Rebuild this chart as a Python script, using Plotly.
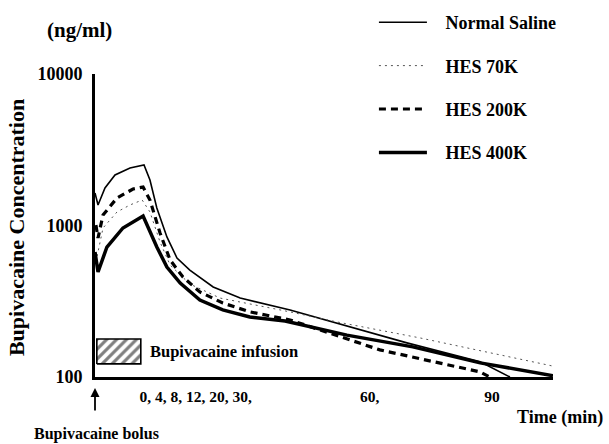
import math
import plotly.graph_objects as go

# Schematic time axis (arbitrary units 0..100 along the drawn axis)
t_saline = [0, 0.66, 2.18, 4.37, 7.64, 10.7, 12.0, 13.5, 15.7, 17.9, 20.7, 25.8, 31.7, 42.6, 68.1, 84.1, 90.6]
c_saline = [1639, 1365, 1768, 2154, 2396, 2508, 1997, 1305, 840, 610, 508, 393, 332, 277, 168, 126, 100]

t_hes70 = [0.2, 1.75, 4.8, 7.64, 10.3, 12.0, 14.2, 16.4, 20.7, 27.3, 42.6, 52.8, 71.0, 100]
c_hes70 = [574, 963, 1228, 1366, 1473, 1228, 778, 548, 411, 332, 269, 231, 181, 118]

t_hes200 = [0.2, 0.66, 1.75, 4.8, 8.3, 10.5, 12.0, 14.2, 16.4, 19.2, 22.9, 27.9, 33.8, 42.6, 62.2, 84.1, 86.2]
c_hes200 = [1008, 827, 1173, 1519, 1741, 1795, 1473, 892, 592, 457, 364, 308, 269, 238, 151, 108, 100]

t_hes400 = [0, 0.66, 2.6, 6.1, 10.5, 13.5, 15.7, 18.6, 22.9, 27.9, 33.8, 41.5, 55.0, 69.4, 84.1, 100]
c_hes400 = [668, 493, 721, 963, 1155, 721, 532, 417, 322, 277, 249, 234, 189, 158, 124, 102]

infusion_t = [0.4, 10.0]
infusion_c = [122, 178]

x_tick_pos = [22, 60, 86.7]
x_tick_text = ["0, 4, 8, 12, 20, 30,", "60,", "90"]
y_tick_vals = [100, 1000, 10000]
y_tick_text = ["100", "1000", "10000"]

FONT = "Liberation Serif"
PAD = "   "

fig = go.Figure()

fig.add_trace(go.Scatter(
    x=[infusion_t[0], infusion_t[1], infusion_t[1], infusion_t[0], infusion_t[0]],
    y=[infusion_c[0], infusion_c[0], infusion_c[1], infusion_c[1], infusion_c[0]],
    mode="lines", fill="toself", fillcolor="white",
    fillpattern=dict(shape="/", fgcolor="black", bgcolor="white", size=7, solidity=0.45),
    line=dict(color="black", width=1.6), showlegend=False, hoverinfo="skip"))

fig.add_trace(go.Scatter(x=t_saline, y=c_saline, mode="lines", name=PAD + "Normal Saline",
                         legendgroup="a", line=dict(color="black", width=1.6)))
fig.add_trace(go.Scatter(x=t_hes70, y=c_hes70, mode="lines", name=PAD + "HES 70K",
                         legendgroup="b", line=dict(color="#555555", width=1, dash="2px,4px")))
fig.add_trace(go.Scatter(x=t_hes200, y=c_hes200, mode="lines", name=PAD + "HES 200K",
                         legendgroup="c", line=dict(color="black", width=3.2, dash="7px,5px")))
fig.add_trace(go.Scatter(x=t_hes400, y=c_hes400, mode="lines", name=PAD + "HES 400K",
                         legendgroup="d", line=dict(color="black", width=3.5)))

fig.update_layout(
    width=609, height=444,
    margin=dict(l=95, r=56, t=74, b=67, autoexpand=False),
    paper_bgcolor="white", plot_bgcolor="white",
    font=dict(family=FONT, size=17, color="black", weight="bold"),
    showlegend=True,
    legend=dict(x=0.609, y=1.231, xanchor="left", yanchor="top",
                font=dict(family=FONT, size=18, weight="bold"),
                tracegroupgap=17, itemwidth=48, bgcolor="rgba(0,0,0,0)"),
    xaxis=dict(range=[0, 100], showline=True, linecolor="black", linewidth=3,
               showgrid=False, zeroline=False,
               tickvals=x_tick_pos, ticktext=x_tick_text,
               ticks="outside", ticklen=3, tickcolor="rgba(0,0,0,0)",
               tickfont=dict(family=FONT, size=15.5, weight="bold")),
    yaxis=dict(type="log", range=[2, 4], showline=True, linecolor="black", linewidth=3,
               showgrid=False, zeroline=False,
               tickvals=y_tick_vals, ticktext=y_tick_text,
               ticks="outside", ticklen=6, tickcolor="rgba(0,0,0,0)",
               tickfont=dict(family=FONT, size=18, weight="bold")),
    annotations=[
        dict(text="(ng/ml)", xref="paper", yref="paper", x=-0.033, y=1.145,
             xanchor="center", yanchor="middle", showarrow=False, font=dict(size=21)),
        dict(text="Bupivacaine Concentration", xref="paper", yref="paper",
             x=-0.17, y=0.492, xanchor="center", yanchor="middle",
             textangle=-90, showarrow=False, font=dict(size=22)),
        dict(text="Time (min)", xref="paper", yref="paper", x=1.1135, y=-0.135,
             xanchor="right", yanchor="middle", showarrow=False, font=dict(size=18)),
        dict(text="Bupivacaine infusion", xref="x", yref="y", x=11.5, y=math.log10(147),
             xanchor="left", yanchor="middle", showarrow=False, font=dict(size=16.5)),
        dict(text="Bupivacaine bolus", xref="x", yref="paper", x=0.4, y=-0.188,
             xanchor="center", yanchor="middle", showarrow=False, font=dict(size=16)),
        dict(text="", xref="x", yref="paper", x=0, y=-0.036, ax=0, ay=24,
             showarrow=True, arrowhead=2, arrowsize=1, arrowwidth=1.8, arrowcolor="black"),
    ],
)

fig.write_html("out.html", config={"displayModeBar": False},
               post_script="document.body.style.margin='0';document.body.style.padding='0';")
